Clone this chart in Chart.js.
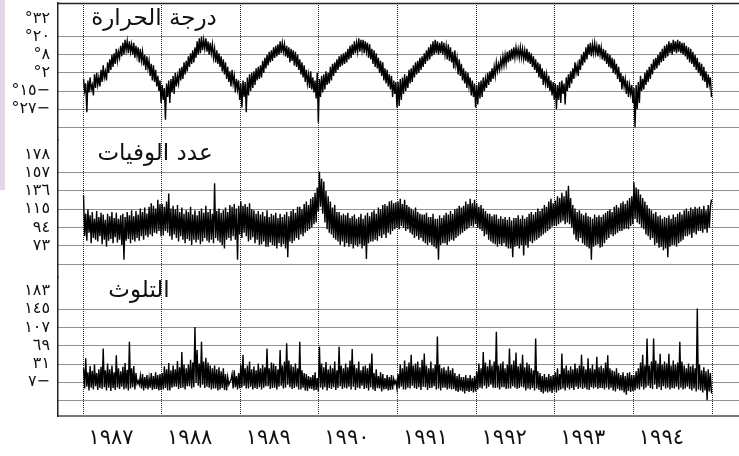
<!DOCTYPE html>
<html lang="ar">
<head>
<meta charset="utf-8">
<script src="https://cdn.jsdelivr.net/npm/chart.js@4.4.1/dist/chart.umd.min.js"></script>
<style>
  html, body { margin: 0; padding: 0; background: #fff; }
  #wrap { position: relative; width: 739px; height: 456px; }
  #edge { position: absolute; left: 0; top: 0; width: 5px; height: 190px; background: #e2d6ea; }
  #c { position: absolute; left: 0; top: 0; }
</style>
</head>
<body>
<div id="wrap">
  <div id="edge"></div>
  <canvas id="c" width="739" height="456"></canvas>
</div>
<script>
const years = [1987, 1988, 1989, 1990, 1991, 1992, 1993, 1994]
const yearLabels = ['١٩٨٧', '١٩٨٨', '١٩٨٩', '١٩٩٠', '١٩٩١', '١٩٩٢', '١٩٩٣', '١٩٩٤']
const samplesPerYear = 72

const temperature = [
  // 1987
  -8,-16,-11,-30,-9,-17, -7,-15,-12,-19,-5,-14, -4,-12,-7,-13,-2,-10, 1,-7,-3,-9,3,-4, 5,-2,8,0,9,2, 12,4,10,6,14,7,
  16,8,18,11,17,9, 17,10,15,8,16,6, 14,7,13,3,12,4, 10,1,8,-2,7,-1, 4,-6,2,-9,1,-10, -2,-13,-6,-16,-9,-24,
  // 1988
  -12,-22,-14,-35,-11,-20, -9,-24,-8,-17,-6,-18, -4,-13,-6,-11,-1,-9, 0,-8,3,-5,4,-3, 7,0,9,2,11,3, 13,6,17,8,19,9,
  20,11,18,12,19,10, 17,8,16,9,15,6, 12,3,11,2,9,0, 7,-3,5,-5,3,-8, 0,-10,-3,-13,-2,-11, -6,-17,-8,-15,-9,-22,
  // 1989
  -11,-27,-9,-20,-10,-30, -7,-19,-5,-16,-4,-14, -3,-12,-1,-9,0,-8, 1,-7,4,-4,6,-1, 8,1,10,3,11,4, 13,6,14,7,15,8,
  17,9,16,10,15,7, 14,6,13,3,12,4, 11,1,10,0,8,-2, 5,-5,3,-7,1,-10, -2,-11,-5,-14,-3,-15, -7,-17,-9,-21,-4,-37,
  // 1990
  -8,-20,-6,-17,-5,-15, -3,-12,-4,-11,0,-9, 2,-6,3,-4,5,-2, 7,0,8,1,9,2, 10,3,12,5,14,6, 15,8,17,9,16,10,
  19,10,18,11,18,9, 17,10,16,6,15,5, 12,2,11,0,9,-1, 6,-4,4,-6,3,-9, -1,-11,-2,-13,-5,-15, -6,-20,-9,-18,-10,-27,
  // 1991
  -10,-26,-8,-22,-7,-18, -5,-16,-6,-14,-2,-11, -1,-10,1,-7,3,-5, 4,-4,6,-2,7,0, 9,2,11,4,13,5, 15,7,17,8,18,9,
  17,8,16,9,17,8, 16,8,14,5,15,4, 13,3,10,-1,11,1, 6,-5,5,-6,2,-9, -1,-11,-3,-14,-4,-13, -7,-19,-9,-20,-11,-27,
  // 1992
  -12,-25,-10,-21,-9,-20, -7,-16,-8,-14,-4,-12, -3,-10,-1,-8,0,-6, 3,-3,2,-2,5,0, 7,1,8,2,10,3, 11,4,12,5,13,6,
  13,7,12,6,13,6, 12,5,11,4,12,3, 10,2,9,0,7,-2, 5,-4,3,-7,2,-8, -1,-12,-3,-11,-5,-14, -6,-16,-9,-19,-10,-22,
  // 1993
  -11,-28,-12,-22,-10,-24, -9,-18,-11,-25,-7,-16, -5,-14,-3,-11,-1,-8, 3,-4,1,-6,5,-2, 8,1,10,3,13,5, 15,8,16,7,15,9,
  16,9,14,7,15,8, 13,5,12,4,11,2, 9,0,8,-1,6,-4, 5,-5,2,-8,0,-10, -4,-15,-6,-13,-8,-18, -9,-20,-12,-18,-12,-24,
  // 1994
  -14,-40,-12,-28,-10,-24, -6,-16,-8,-15,-4,-12, -2,-10,0,-8,2,-5, 5,-2,6,-1,8,1, 10,3,12,4,14,6, 15,7,17,9,16,8,
  18,10,17,9,18,10, 17,9,16,8,16,7, 14,5,13,3,12,2, 10,0,8,-2,6,-4, 3,-6,2,-9,0,-10, -3,-14,-5,-12,-7,-20
]

const deaths = [
  // 1987
  131,84,110,79,115,88, 108,76,112,82,104,80, 113,78,106,84,111,75, 109,80,103,72,110,79, 107,81,112,76,105,83, 111,77,104,80,108,74,
  110,57,106,79,112,81, 108,76,114,80,107,78, 113,82,109,79,116,84, 112,80,117,85,110,83, 118,86,122,84,119,88, 116,87,126,90,121,84,
  // 1988
  121,85,118,90,124,88, 133,84,116,80,119,86, 115,82,120,78,112,84, 117,80,110,76,114,81, 112,79,118,74,109,80, 114,77,108,80,113,75,
  116,78,111,82,119,79, 112,77,115,80,110,76, 145,82,113,79,116,77, 111,74,114,70,117,80, 112,82,120,79,118,84, 121,80,116,57,119,86,
  // 1989
  124,82,119,88,121,84, 118,78,122,80,115,83, 114,76,110,80,113,74, 109,75,112,78,107,72, 114,72,106,77,110,74, 108,73,111,70,105,76,
  110,72,106,75,109,70, 112,60,107,78,113,76, 115,79,111,82,118,80, 118,86,115,84,121,88, 124,90,120,92,127,94, 129,98,134,100,140,112,
  // 1990
  158,118,150,110,147,100, 136,92,130,88,124,86, 117,82,120,80,112,78, 112,74,108,78,110,72, 108,76,111,72,105,75, 107,70,109,74,104,72,
  106,75,110,70,104,73, 108,58,111,76,107,78, 112,78,114,80,110,79, 117,84,115,82,120,86, 121,82,119,88,124,86, 125,90,122,92,123,94,
  // 1991
  124,92,127,96,121,94, 126,90,120,92,118,88, 116,86,114,82,117,84, 112,80,110,82,109,78, 109,76,111,74,106,77, 106,74,110,72,104,70,
  104,57,108,74,105,76, 108,76,111,74,109,78, 113,80,110,79,115,82, 116,84,119,86,117,88, 119,90,124,92,121,94, 127,96,122,95,126,98,
  // 1992
  122,94,118,92,120,90, 116,84,113,86,110,80, 110,78,107,76,109,75, 109,72,104,75,107,73, 104,76,106,72,103,70, 106,70,102,60,105,72,
  105,73,108,70,104,74, 108,62,104,74,106,71, 110,78,112,76,109,79, 112,80,116,82,113,84, 116,86,120,88,118,90, 124,92,127,95,122,96,
  // 1993
  125,96,130,98,128,100, 134,102,130,98,136,100, 142,98,128,94,120,86, 116,80,112,78,114,82, 110,76,108,74,111,72, 107,70,106,57,104,72,
  109,74,106,75,108,71, 106,72,109,76,111,80, 113,82,115,86,112,84, 118,86,120,88,117,90, 122,90,124,92,121,93, 125,92,128,96,130,98,
  // 1994
  146,104,140,100,138,98, 132,94,128,92,124,86, 120,84,116,80,114,82, 110,74,112,76,107,71, 108,72,104,68,106,70, 105,60,108,72,104,74,
  109,74,106,72,110,76, 112,78,109,80,114,84, 116,84,113,86,117,82, 115,88,118,86,116,90, 118,90,115,88,119,92, 114,88,120,94,118,126
]

const pollution = [
  // 1987
  22,-20,43,-16,14,-24, 27,-18,17,-22,30,-15, 12,-23,20,-19,25,-21, 63,-17,18,-24,32,-18, 20,-25,28,-19,14,-23, 49,-18,22,-21,16,-16,
  25,-22,33,-20,19,-24, 77,-20,22,-17,27,-22, 12,-10,-4,-12,6,-20, 10,-24,4,-19,8,-22, 2,-18,12,-23,6,-21, 14,-21,8,-24,10,-23,
  // 1988
  12,-22,26,-19,20,-24, 33,-24,18,-18,28,-16, 20,-16,37,-21,24,-19, 56,-18,30,-22,22,-15, 30,-15,40,-20,34,-17, 108,-8,60,-14,32,-18,
  77,-12,36,-19,44,-16, 34,-18,28,-22,22,-20, 28,-20,20,-24,24,-22, 16,-19,22,-23,10,-24, 4,-12,-6,-2,10,-20, 18,-17,6,-22,12,-19,
  // 1989
  30,-18,50,-14,22,-20, 28,-20,36,-16,20,-22, 26,-19,18,-21,32,-17, 22,-22,30,-18,24,-15, 63,-15,22,-21,34,-19, 32,-18,27,-22,20,-16,
  60,-14,28,-20,36,-18, 74,-12,38,-17,30,-21, 25,-19,32,-16,22,-22, 77,-22,18,-18,12,-24, 10,-25,6,-20,4,-21, 8,-24,14,-23,2,-26,
  // 1990
  67,-18,32,-22,24,-17, 35,-24,20,-19,28,-21, 22,-17,36,-23,18,-19, 67,-15,28,-21,22,-18, 32,-20,24,-16,38,-22, 62,-16,30,-23,22,-18,
  36,-20,18,-14,26,-21, 28,-19,22,-24,32,-17, 53,-22,12,-25,20,-19, 6,-20,14,-26,10,-22, 2,-21,8,-24,4,-23, 8,-22,0,-10,-4,-20,
  // 1991
  10,-20,30,-16,22,-22, 38,-22,26,-18,34,-20, 50,-14,28,-19,32,-21, 36,-17,24,-23,40,-16, 53,-17,28,-23,22,-19, 36,-19,22,-15,30,-22,
  88,-20,30,-24,22,-18, 24,-18,18,-22,26,-20, 18,-22,22,-21,12,-25, 6,-27,10,-24,4,-26, 4,-30,8,-25,2,-27, 8,-25,2,-28,6,-26,
  // 1992
  16,-22,32,-18,22,-20, 56,-14,34,-20,26,-16, 40,-12,28,-18,36,-19, 98,-18,28,-22,32,-17, 36,-17,22,-21,30,-20, 63,-20,30,-15,38,-18,
  55,-21,26,-19,32,-16, 50,-18,24,-24,34,-20, 30,-22,22,-19,18,-24, 84,-20,16,-23,12,-27, 6,-30,10,-26,4,-28, 10,-26,6,-29,8,-24,
  // 1993
  14,-28,22,-24,10,-22, 53,-20,22,-24,28,-18, 18,-22,26,-19,20,-23, 32,-16,22,-21,28,-18, 50,-21,26,-18,20,-22, 43,-23,22,-17,30,-20,
  20,-17,46,-21,24,-19, 28,-19,22,-22,34,-18, 49,-22,22,-18,18,-24, 16,-26,22,-21,12,-24, 8,-24,14,-28,6,-33, 12,-25,14,-27,8,-25,
  // 1994
  8,-24,16,-20,22,-22, 34,-16,50,-22,28,-18, 84,-14,28,-19,36,-21, 84,-12,38,-21,32,-17, 52,-23,30,-15,36,-20, 32,-18,52,-22,28,-19,
  38,-20,30,-16,34,-22, 77,-18,36,-22,28,-20, 22,-16,32,-21,26,-24, 30,-20,22,-26,146,-22, 30,-24,18,-28,24,-24, 16,-44,20,-26,12,-30
]

// tick values from the bottom gridline up; the lowest has no label, the highest no gridline
const tempTicks = [-40, -28, -16, -4, 8, 20, 32]
const tempTickLabels = ['', '°٢٧−', '°١٥−', '°٢', '°٨', '°٢٠', '°٣٢']
const deathTicks = [52, 73, 94, 115, 136, 157, 178]
const deathTickLabels = ['', '٧٣', '٩٤', '١١٥', '١٣٦', '١٥٧', '١٧٨']
const pollutionTicks = [-45, -7, 31, 69, 107, 145, 183]
const pollutionTickLabels = ['', '٧−', '٣١', '٦٩', '١٠٧', '١٤٥', '١٨٣']

const panelTitles = ['درجة الحرارة', 'عدد الوفيات', 'التلوث']

const FONT = '"DejaVu Sans", sans-serif'
const INK = '#111'
const GRID = '#222'

Chart.defaults.font.family = FONT
Chart.defaults.color = INK

const toPoints = values => values.map((v, i) => ({ x: years[0] + (i + 0.5) / samplesPerYear, y: v }))

function series(values, axis) {
    return {
        data: toPoints(values),
        yAxisID: axis,
        borderColor: '#000',
        borderWidth: 1.4,
        pointRadius: 0,
        tension: 0,
        spanGaps: false,
    }
}

function panelAxis(ticks, labels, min, max, weight, stackWeight) {
    return {
        type: 'linear',
        position: 'left',
        stack: 'panels',
        stackWeight: stackWeight,
        weight: weight,
        min: min,
        max: max,
        afterBuildTicks: scale => { scale.ticks = ticks.map(value => ({ value })) },
        afterFit: scale => {
            scale.width = 58
            scale.paddingTop = 0
            scale.paddingBottom = 0
        },
        ticks: {
            autoSkip: false,
            padding: 8,
            color: INK,
            font: { size: 16 },
            callback: (value, index) => labels[index],
        },
        grid: {
            drawTicks: false,
            lineWidth: 1,
            color: ctx => ctx.index === ticks.length - 1 ? 'rgba(0,0,0,0)' : GRID,
        },
        border: { color: '#222', width: 1.5, dash: [1, 1] },
    }
}

const titleX = [154, 155, 139]

const panelDecor = {
    id: 'panelDecor',
    afterDraw(chart) {
        const { ctx, chartArea, scales } = chart
        ctx.save()
        ctx.strokeStyle = '#222'
        ctx.lineWidth = 1.5
        ctx.beginPath()
        ctx.moveTo(chartArea.left, chartArea.top + 0.5)
        ctx.lineTo(chartArea.right, chartArea.top + 0.5)
        ctx.stroke()

        const tops = [tempTicks, deathTicks, pollutionTicks].map(t => t[t.length - 1])
        ctx.fillStyle = INK
        ctx.font = '23px ' + FONT
        ctx.textAlign = 'center'
        ctx.textBaseline = 'middle'
        panelTitles.forEach((title, i) => {
            const y = scales['y' + (i + 1)].getPixelForValue(tops[i])
            ctx.fillText(title, titleX[i], y)
        })
        ctx.restore()
    }
}

new Chart(document.getElementById('c'), {
    type: 'line',
    data: {
        datasets: [
            series(temperature, 'y1'),
            series(deaths, 'y2'),
            series(pollution, 'y3'),
        ]
    },
    options: {
        responsive: false,
        animation: false,
        layout: { padding: { top: 3, right: 0, left: 0, bottom: 0 } },
        plugins: { legend: { display: false }, tooltip: { enabled: false } },
        scales: {
            x: {
                type: 'linear',
                min: 1986.682,
                max: 1995.343,
                afterBuildTicks: scale => { scale.ticks = [...years, 1995].map(value => ({ value })) },
                afterFit: scale => {
                    scale.height = 40
                    scale.paddingLeft = 0
                    scale.paddingRight = 0
                },
                ticks: {
                    autoSkip: false,
                    maxRotation: 0,
                    labelOffset: 28,
                    padding: 10,
                    color: INK,
                    font: { size: 21 },
                    callback: (value, index) => yearLabels[index] || '',
                },
                grid: { drawTicks: false, lineWidth: 1, color: GRID },
                border: { color: '#777', width: 2, dash: [1, 1] },
            },
            y1: panelAxis(tempTicks, tempTickLabels, -48.49, 42.35, 3, 137),
            y2: panelAxis(deathTicks, deathTickLabels, 37.31, 194.52, 2, 137),
            y3: panelAxis(pollutionTicks, pollutionTickLabels, -76.98, 211.66, 1, 139),
        }
    },
    plugins: [panelDecor]
})
</script>
</body>
</html>
